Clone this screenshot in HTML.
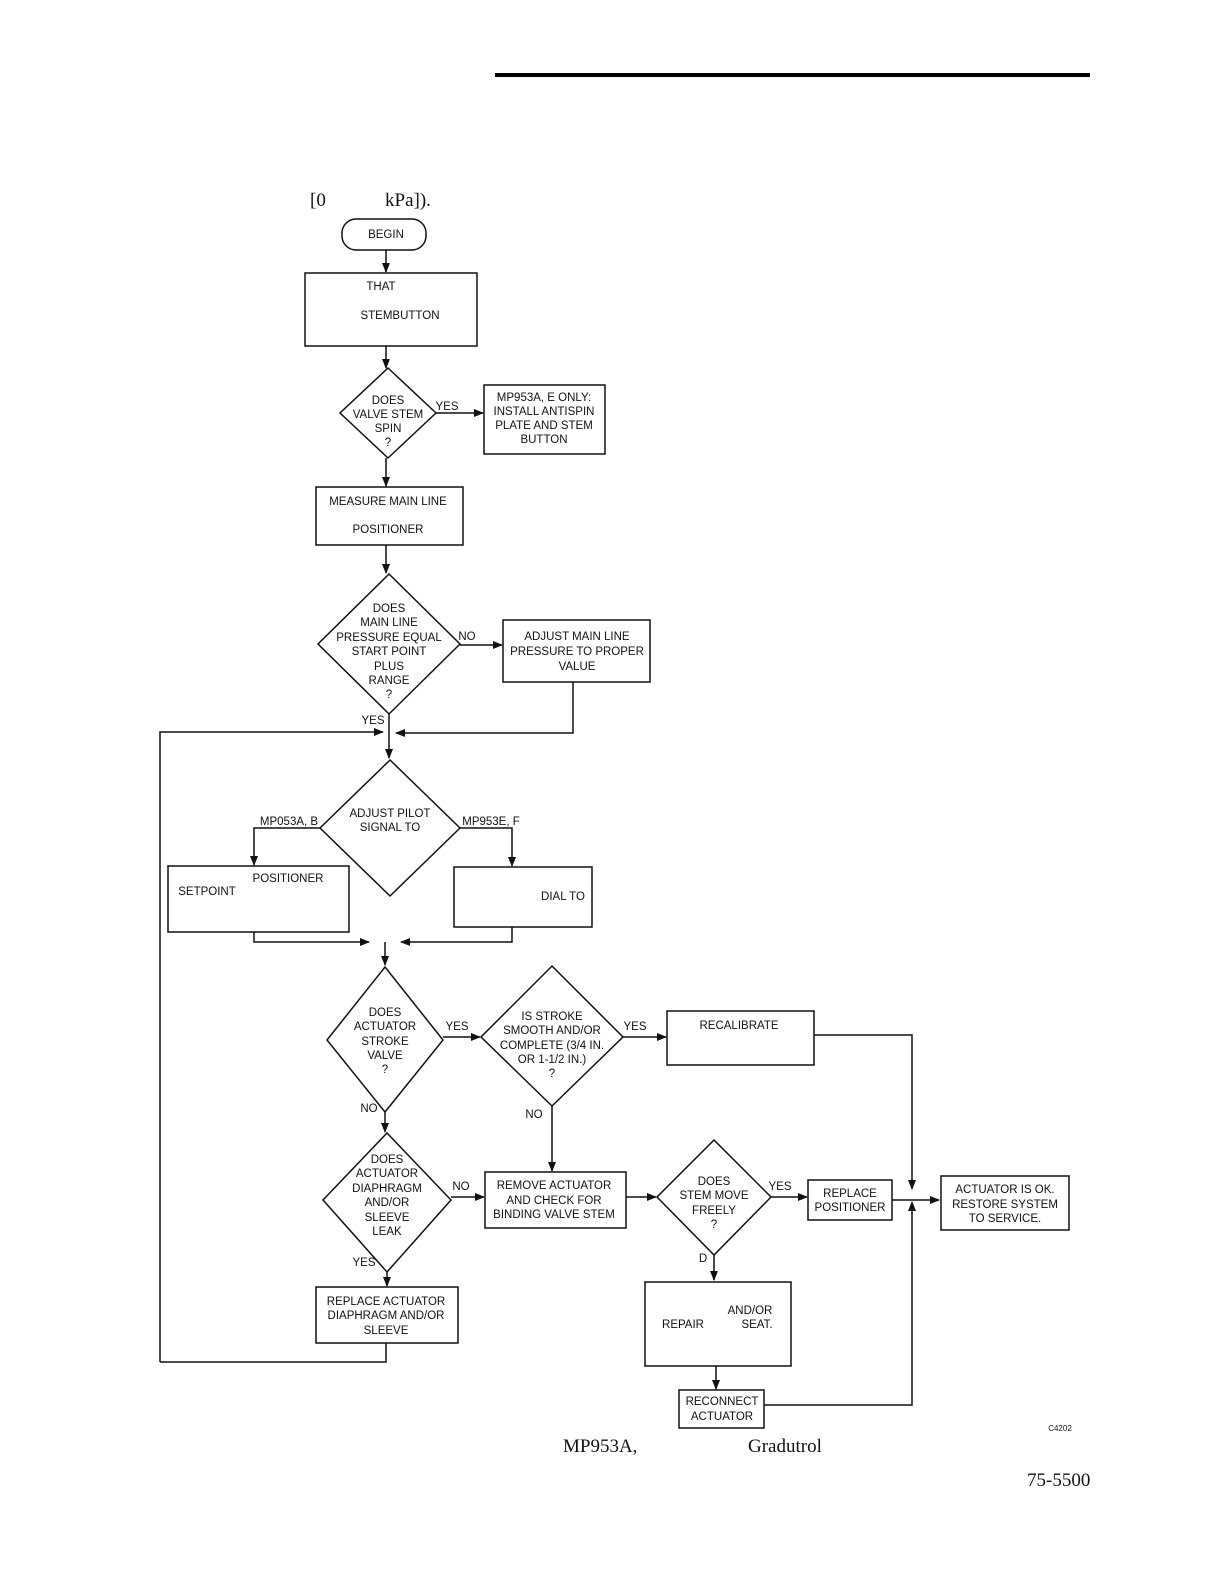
<!DOCTYPE html>
<html><head><meta charset="utf-8"><style>
html,body{margin:0;padding:0;background:#fff;}
svg{display:block;}
.s{font-family:"Liberation Sans",sans-serif;font-size:11.5px;fill:#111;text-anchor:middle;}
.r{font-family:"Liberation Serif",serif;font-size:19px;fill:#111;}
</style></head><body>
<svg width="1226" height="1586" viewBox="0 0 1226 1586" xmlns="http://www.w3.org/2000/svg">
<defs><marker id="a" markerWidth="10" markerHeight="8" refX="9" refY="4" orient="auto" markerUnits="userSpaceOnUse"><path d="M0,0 L10,4 L0,8 z" fill="#111"/></marker></defs>
<line x1="495" y1="75" x2="1090" y2="75" stroke="#000" stroke-width="4"/>
<text class="r" x="310" y="206">[0</text><text class="r" x="385" y="206">kPa]).</text>
<g fill="none" stroke="#111" stroke-width="1.5">
<rect x="342" y="219" width="84" height="31" rx="14"/>
<line x1="386" y1="250" x2="386" y2="272" marker-end="url(#a)"/>
<rect x="305" y="273" width="172" height="73"/>
<line x1="386" y1="346" x2="386" y2="368" marker-end="url(#a)"/>
<polygon points="388,368 436,413 388,458 340,413"/>
<line x1="436" y1="413" x2="483" y2="413" marker-end="url(#a)"/>
<rect x="484" y="385" width="121" height="69"/>
<line x1="386" y1="458" x2="386" y2="486" marker-end="url(#a)"/>
<rect x="316" y="487" width="147" height="58"/>
<line x1="386" y1="545" x2="386" y2="573" marker-end="url(#a)"/>
<polygon points="389,574 460,644 389,714 318,644"/>
<line x1="460" y1="645" x2="502" y2="645" marker-end="url(#a)"/>
<rect x="503" y="620" width="147" height="62"/>
<polyline points="573,682 573,733 396,733" marker-end="url(#a)"/>
<line x1="389" y1="714" x2="389" y2="758" marker-end="url(#a)"/>
<polyline points="160,1362 160,732 383,732" marker-end="url(#a)"/>
<polygon points="390,760 460,828 390,896 320,828"/>
<polyline points="320,828 254,828 254,865" marker-end="url(#a)"/>
<polyline points="460,828 512,828 512,866" marker-end="url(#a)"/>
<rect x="168" y="866" width="181" height="66"/>
<rect x="454" y="867" width="138" height="60"/>
<polyline points="254,932 254,942 369,942" marker-end="url(#a)"/>
<polyline points="512,927 512,942 401,942" marker-end="url(#a)"/>
<line x1="385" y1="942" x2="385" y2="965" marker-end="url(#a)"/>
<polygon points="385,967 443,1040 385,1112 327,1040"/>
<line x1="443" y1="1037" x2="480" y2="1037" marker-end="url(#a)"/>
<polygon points="552,966 623,1037 552,1106 481,1037"/>
<line x1="623" y1="1037" x2="666" y2="1037" marker-end="url(#a)"/>
<rect x="667" y="1011" width="147" height="54"/>
<polyline points="814,1035 912,1035 912,1189" marker-end="url(#a)"/>
<line x1="385" y1="1112" x2="385" y2="1132" marker-end="url(#a)"/>
<line x1="552" y1="1106" x2="552" y2="1171" marker-end="url(#a)"/>
<polygon points="387,1133 451,1200 387,1272 323,1200"/>
<line x1="451" y1="1197" x2="484" y2="1197" marker-end="url(#a)"/>
<rect x="485" y="1172" width="141" height="56"/>
<line x1="626" y1="1197" x2="656" y2="1197" marker-end="url(#a)"/>
<polygon points="714,1140 771,1197 714,1255 657,1197"/>
<line x1="771" y1="1197" x2="807" y2="1197" marker-end="url(#a)"/>
<rect x="808" y="1180" width="84" height="40"/>
<line x1="892" y1="1200" x2="939" y2="1200" marker-end="url(#a)"/>
<rect x="941" y="1176" width="128" height="54"/>
<polyline points="764,1405 912,1405 912,1202" marker-end="url(#a)"/>
<line x1="714" y1="1255" x2="714" y2="1280" marker-end="url(#a)"/>
<rect x="645" y="1282" width="146" height="84"/>
<line x1="716" y1="1366" x2="716" y2="1389" marker-end="url(#a)"/>
<rect x="679" y="1390" width="85" height="38"/>
<line x1="387" y1="1272" x2="387" y2="1286" marker-end="url(#a)"/>
<rect x="316" y="1287" width="142" height="56"/>
<polyline points="386,1343 386,1362 160,1362"/>
</g>
<g class="s">
<text x="386" y="238">BEGIN</text>
<text x="381" y="290">THAT</text>
<text x="400" y="319">STEMBUTTON</text>
<text x="388" y="404">DOES</text><text x="388" y="418">VALVE STEM</text><text x="388" y="432">SPIN</text><text x="388" y="446">?</text>
<text x="447" y="410">YES</text>
<text x="544" y="401">MP953A, E ONLY:</text><text x="544" y="415">INSTALL ANTISPIN</text><text x="544" y="429">PLATE AND STEM</text><text x="544" y="443">BUTTON</text>
<text x="388" y="505">MEASURE MAIN LINE</text><text x="388" y="533">POSITIONER</text>
<text x="389" y="612">DOES</text><text x="389" y="626">MAIN LINE</text><text x="389" y="641">PRESSURE EQUAL</text><text x="389" y="655">START POINT</text><text x="389" y="670">PLUS</text><text x="389" y="684">RANGE</text><text x="389" y="698">?</text>
<text x="467" y="640">NO</text>
<text x="577" y="640">ADJUST MAIN LINE</text><text x="577" y="655">PRESSURE TO PROPER</text><text x="577" y="670">VALUE</text>
<text x="373" y="724">YES</text>
<text x="390" y="817">ADJUST PILOT</text><text x="390" y="831">SIGNAL TO</text>
<text x="289" y="825">MP053A, B</text><text x="491" y="825">MP953E, F</text>
<text x="288" y="882">POSITIONER</text><text x="207" y="895">SETPOINT</text>
<text x="563" y="900">DIAL TO</text>
<text x="385" y="1016">DOES</text><text x="385" y="1030">ACTUATOR</text><text x="385" y="1045">STROKE</text><text x="385" y="1059">VALVE</text><text x="385" y="1073">?</text>
<text x="457" y="1030">YES</text>
<text x="552" y="1020">IS STROKE</text><text x="552" y="1034">SMOOTH AND/OR</text><text x="552" y="1049">COMPLETE (3/4 IN.</text><text x="552" y="1063">OR 1-1/2 IN.)</text><text x="552" y="1077">?</text>
<text x="635" y="1030">YES</text>
<text x="739" y="1029">RECALIBRATE</text>
<text x="369" y="1112">NO</text><text x="534" y="1118">NO</text>
<text x="387" y="1163">DOES</text><text x="387" y="1177">ACTUATOR</text><text x="387" y="1192">DIAPHRAGM</text><text x="387" y="1206">AND/OR</text><text x="387" y="1221">SLEEVE</text><text x="387" y="1235">LEAK</text>
<text x="461" y="1190">NO</text>
<text x="554" y="1189">REMOVE ACTUATOR</text><text x="554" y="1204">AND CHECK FOR</text><text x="554" y="1218">BINDING VALVE STEM</text>
<text x="714" y="1185">DOES</text><text x="714" y="1199">STEM MOVE</text><text x="714" y="1214">FREELY</text><text x="714" y="1228">?</text>
<text x="780" y="1190">YES</text>
<text x="850" y="1197">REPLACE</text><text x="850" y="1211">POSITIONER</text>
<text x="1005" y="1193">ACTUATOR IS OK.</text><text x="1005" y="1208">RESTORE SYSTEM</text><text x="1005" y="1222">TO SERVICE.</text>
<text x="703" y="1262">D</text>
<text x="364" y="1266">YES</text>
<text x="386" y="1305">REPLACE ACTUATOR</text><text x="386" y="1319">DIAPHRAGM AND/OR</text><text x="386" y="1334">SLEEVE</text>
<text x="750" y="1314">AND/OR</text><text x="683" y="1328">REPAIR</text><text x="757" y="1328">SEAT.</text>
<text x="722" y="1405">RECONNECT</text><text x="722" y="1420">ACTUATOR</text>
<text x="1060" y="1431" style="font-size:8px">C4202</text>
</g>
<text class="r" x="563" y="1452">MP953A,</text>
<text class="r" x="748" y="1452">Gradutrol</text>
<text class="r" x="1027" y="1486">75-5500</text>
</svg>
</body></html>
